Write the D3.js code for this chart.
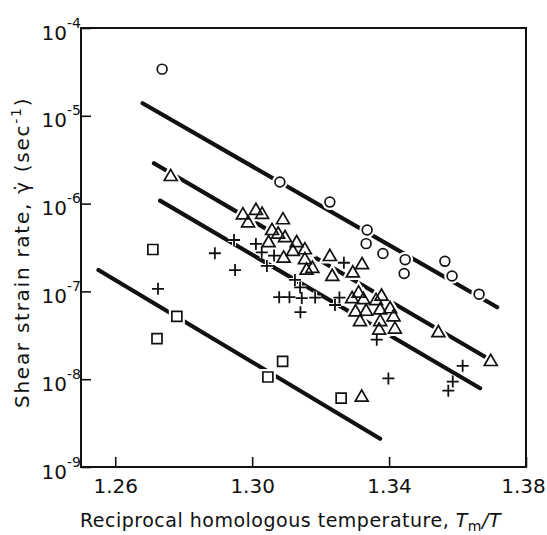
<!DOCTYPE html>
<html>
<head>
<meta charset="utf-8">
<style>
  body { margin: 0; background: #fff; }
  text { font-family: "DejaVu Sans", sans-serif; fill: #111; }
</style>
</head>
<body>

<script src="https://d3js.org/d3.v7.min.js"></script>
<script>

const width = 547;
const height = 535;

// axis ticks
const xTicks = [1.26, 1.30, 1.34, 1.38];
const yTicks = [1e-4, 1e-5, 1e-6, 1e-7, 1e-8, 1e-9];

// circles (Tm/T, strain rate)
const circles = [
  [1.2737, 3.4e-5], [1.3081, 1.76e-6], [1.3227, 1.04e-6], [1.3336, 5.0e-7],
  [1.3333, 3.5e-7], [1.3382, 2.7e-7], [1.3447, 2.3e-7], [1.3444, 1.6e-7],
  [1.3563, 2.2e-7], [1.3584, 1.5e-7], [1.3663, 9.3e-8]
];

// triangles
const triangles = [
  [1.2762, 2.02e-6], [1.2973, 7.4e-7], [1.2988, 6.0e-7], [1.3011, 8.3e-7],
  [1.3029, 7.5e-7], [1.3090, 6.5e-7], [1.3058, 4.9e-7], [1.3076, 4.45e-7],
  [1.3096, 4.06e-7], [1.3048, 3.56e-7], [1.3130, 3.56e-7], [1.3119, 2.83e-7],
  [1.3154, 2.96e-7], [1.3092, 2.38e-7], [1.3154, 2.28e-7], [1.3159, 1.73e-7],
  [1.3176, 1.82e-7], [1.3227, 2.48e-7], [1.3321, 2.0e-7], [1.3234, 1.47e-7],
  [1.3294, 1.61e-7], [1.3311, 9.5e-8], [1.3378, 8.75e-8], [1.3292, 8.2e-8],
  [1.3325, 8.0e-8], [1.3362, 7.8e-8], [1.3403, 6.3e-8], [1.3302, 5.8e-8],
  [1.3333, 5.9e-8], [1.3374, 6.1e-8], [1.3413, 5.1e-8], [1.3315, 4.5e-8],
  [1.3374, 4.5e-8], [1.3371, 3.6e-8], [1.3417, 3.7e-8], [1.3544, 3.36e-8],
  [1.3697, 1.58e-8], [1.3320, 6.2e-9]
];

// crosses
const crosses = [
  [1.2725, 1.07e-7], [1.2891, 2.72e-7], [1.2947, 3.85e-7], [1.2950, 1.75e-7],
  [1.3011, 3.47e-7], [1.3028, 2.79e-7], [1.3043, 1.95e-7], [1.3064, 2.56e-7],
  [1.3079, 8.6e-8], [1.3109, 8.6e-8], [1.3145, 8.4e-8], [1.3184, 8.5e-8],
  [1.3125, 1.35e-7], [1.3140, 1.11e-7], [1.3141, 5.8e-8], [1.3242, 7.0e-8],
  [1.3255, 8.5e-8], [1.3268, 2.12e-7], [1.3364, 2.82e-8], [1.3398, 1.02e-8],
  [1.3615, 1.42e-8], [1.3586, 9.4e-9], [1.3573, 7.4e-9]
];

// squares
const squares = [
  [1.2710, 3.0e-7], [1.2780, 5.2e-8], [1.2722, 2.9e-8], [1.3046, 1.06e-8],
  [1.3089, 1.6e-8], [1.3260, 6.1e-9]
];

// fitted lines: [x0, y0, x1, y1]
const fitLines = [
  [1.2680, 1.39e-5, 1.3716, 6.6e-8],
  [1.2713, 2.88e-6, 1.3680, 1.8e-8],
  [1.2731, 1.08e-6, 1.3666, 7.9e-9],
  [1.2551, 1.75e-7, 1.3374, 2.1e-9]
];

const svg = d3.select('body')
              .append('svg')
              .attr('width', width)
              .attr('height', height);

const x = d3.scaleLinear().domain([1.25, 1.38]).range([81, 526]);
const y = d3.scaleLog().domain([1e-9, 1e-4]).range([467, 28]);

// lines
svg.append('g')
   .selectAll('line')
   .data(fitLines)
   .enter()
   .append('line')
   .attr('x1', d => x(d[0]))
   .attr('y1', d => y(d[1]))
   .attr('x2', d => x(d[2]))
   .attr('y2', d => y(d[3]))
   .attr('stroke', '#111')
   .attr('stroke-width', 4.2)
   .attr('stroke-linecap', 'round');

// marker shapes
const circlePath = d3.symbol().type(d3.symbolCircle).size(75)();
const squarePath = d3.symbol().type(d3.symbolSquare).size(100)();
const trianglePath = d3.symbol().type(d3.symbolTriangle).size(72)();
const plusPath = (() => {
  const p = d3.path();
  p.moveTo(-6, 0); p.lineTo(6, 0);
  p.moveTo(0, -6); p.lineTo(0, 6);
  return p.toString();
})();

const sets = [
  {data: circles, path: circlePath},
  {data: triangles, path: trianglePath},
  {data: crosses, path: plusPath},
  {data: squares, path: squarePath}
];

// white halo so the lines break around the markers
const halo = svg.append('g');
sets.forEach(s => {
  halo.selectAll(null)
      .data(s.data)
      .enter()
      .append('path')
      .attr('d', s.path)
      .attr('transform', d => `translate(${x(d[0])},${y(d[1])})`)
      .attr('fill', s.path === plusPath ? 'none' : '#fff')
      .attr('stroke', '#fff')
      .attr('stroke-width', s.path === plusPath ? 4 : 6);
});

const marks = svg.append('g');
sets.forEach(s => {
  marks.selectAll(null)
       .data(s.data)
       .enter()
       .append('path')
       .attr('d', s.path)
       .attr('transform', d => `translate(${x(d[0])},${y(d[1])})`)
       .attr('fill', 'none')
       .attr('stroke', '#111')
       .attr('stroke-width', s.path === plusPath ? 1.8 : 1.7);
});

// frame
svg.append('rect')
   .attr('x', 81).attr('y', 28)
   .attr('width', 526 - 81).attr('height', 467 - 28)
   .attr('fill', 'none')
   .attr('stroke', '#111')
   .attr('stroke-width', 2);

// x axis
const xAxis = svg.append('g')
   .attr('transform', 'translate(0,467)')
   .call(d3.axisBottom(x)
           .tickValues(xTicks)
           .tickFormat(d3.format('.2f'))
           .tickSizeInner(-10)
           .tickSizeOuter(0)
           .tickPadding(12));
xAxis.select('.domain').remove();
xAxis.selectAll('.tick line').attr('stroke', '#111').attr('stroke-width', 1.6);
xAxis.selectAll('.tick text')
     .attr('font-size', 20)
     .attr('fill', '#111')
     .attr('dx', d => d === 1.38 ? -3 : 0);

// y axis
const yAxis = svg.append('g')
   .attr('transform', 'translate(81,0)')
   .call(d3.axisLeft(y)
           .tickValues(yTicks)
           .tickFormat(() => '')
           .tickSizeInner(-10)
           .tickSizeOuter(0));
yAxis.select('.domain').remove();
yAxis.selectAll('.tick line').attr('stroke', '#111').attr('stroke-width', 1.6);
yAxis.selectAll('.tick text').remove();
yAxis.selectAll('.tick').each(function(d) {
  const g = d3.select(this);
  g.append('text')
   .attr('x', -14)
   .attr('y', 11)
   .attr('text-anchor', 'end')
   .attr('font-size', 20)
   .text('10');
  g.append('text')
   .attr('x', -14)
   .attr('y', -1)
   .attr('text-anchor', 'start')
   .attr('font-size', 14)
   .text('-' + Math.round(-Math.log10(d)));
});

// stretch a title to the width it has in the figure
const fit = (sel, target) => {
  const n = sel.text().length;
  const len = sel.node().getComputedTextLength();
  sel.attr('letter-spacing', (target - len) / n);
};

// axis titles
const xTitle = svg.append('text')
   .attr('x', 80)
   .attr('y', 527)
   .attr('font-size', 19);
xTitle.append('tspan').text('Reciprocal homologous temperature, ');
xTitle.append('tspan').attr('font-style', 'italic').text('T');
xTitle.append('tspan').attr('font-size', 14).attr('dy', 4).text('m');
xTitle.append('tspan').attr('dy', -4).attr('font-style', 'italic').text('/T');
fit(xTitle, 421);

const yTitle = svg.append('text')
   .attr('transform', 'translate(29,408) rotate(-90)')
   .attr('font-size', 20);
yTitle.append('tspan').text('Shear strain rate, \u03B3\u0307 (sec');
yTitle.append('tspan').attr('font-size', 14).attr('dy', -8).text('-1');
yTitle.append('tspan').attr('dy', 8).text(')');
fit(yTitle, 313);

</script>
</body>
</html>
